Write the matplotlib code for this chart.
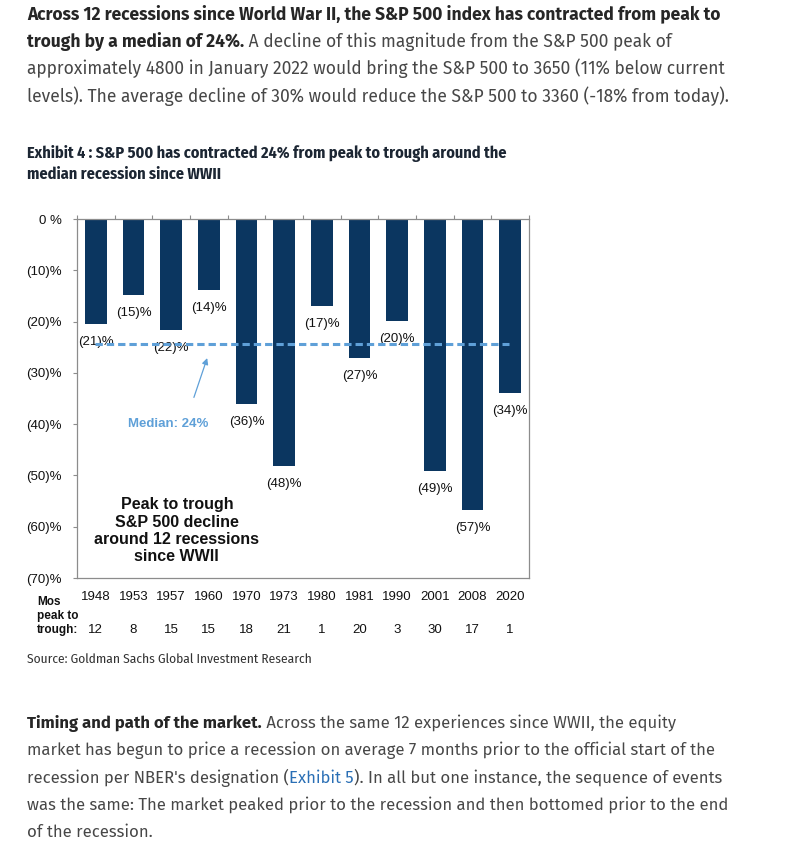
import numpy as np
import matplotlib.pyplot as plt
from matplotlib import font_manager as fm

# data
years = ['1948', '1953', '1957', '1960', '1970', '1973', '1980', '1981', '1990', '2001', '2008', '2020']
decline = [-20.5, -14.8, -21.6, -13.8, -36.1, -48.1, -17.0, -27.1, -19.9, -49.1, -56.7, -33.9]
bar_labels = ['(21)%', '(15)%', '(22)%', '(14)%', '(36)%', '(48)%', '(17)%', '(27)%', '(20)%', '(49)%', '(57)%', '(34)%']
months = [12, 8, 15, 15, 18, 21, 1, 20, 3, 30, 17, 1]
median = -24.4
ytick_vals = [0, -10, -20, -30, -40, -50, -60, -70]
ytick_labels = ['0 %', '(10)%', '(20)%', '(30)%', '(40)%', '(50)%', '(60)%', '(70)%']

NAVY = '#0b3660'
LBLUE = '#5fa0d8'
GRAY = '#8c8c8c'
BODY = '#474747'
DARK = '#262626'
ARIAL = ['Liberation Sans', 'DejaVu Sans']


def has_bold(name):
    ws = {f.weight for f in fm.fontManager.ttflist if f.name == name}
    return any(isinstance(w, int) and w >= 600 or w == 'bold' for w in ws)


def pick(cands, default='Liberation Sans'):
    for c in cands:
        if has_bold(c):
            return c
    return default


# page text: regular width humanist sans; chart title/source: condensed
PAGE = [pick(['Fira Sans', 'Source Sans Pro', 'Source Sans 3', 'PT Sans', 'Noto Sans']), 'DejaVu Sans']
NARROW = [pick(['Fira Sans Condensed', 'Roboto Condensed', 'PT Sans Narrow']), 'DejaVu Sans']

W, H = 800, 856
fig = plt.figure(figsize=(8, 8.56), dpi=100)
fig.patch.set_facecolor('white')
r = fig.canvas.get_renderer()


def px(x, y):
    return x / W, 1 - y / H


def fit_size(txt, weight, width_px, family, base=12):
    t = fig.text(0, 0, txt, fontsize=base, fontweight=weight, family=family)
    w = t.get_window_extent(renderer=r).width
    t.remove()
    return base * width_px / w


def rich_line(x, y, parts, size):
    # parts: (text, weight, color), drawn one after another on a baseline
    xf, yf = px(x, y)
    for txt, weight, color in parts:
        t = fig.text(xf, yf, txt, fontsize=size, fontweight=weight, color=color,
                     family=PAGE, ha='left', va='baseline')
        bb = t.get_window_extent(renderer=r)
        xf = bb.x1 / fig.bbox.width


top_lines = [
    [('Across 12 recessions since World War II, the S&P 500 index has contracted from peak to', 'bold', DARK)],
    [('trough by a median of 24%.', 'bold', DARK),
     (' A decline of this magnitude from the S&P 500 peak of', 'normal', BODY)],
    [('approximately 4800 in January 2022 would bring the S&P 500 to 3650 (11% below current', 'normal', BODY)],
    [('levels). The average decline of 30% would reduce the S&P 500 to 3360 (-18% from today).', 'normal', BODY)],
]
bottom_lines = [
    [('Timing and path of the market.', 'bold', DARK),
     (' Across the same 12 experiences since WWII, the equity', 'normal', BODY)],
    [('market has begun to price a recession on average 7 months prior to the official start of the', 'normal', BODY)],
    [('recession per NBER\'s designation (', 'normal', BODY), ('Exhibit 5', 'normal', '#2a6fb5'),
     ('). In all but one instance, the sequence of events', 'normal', BODY)],
    [('was the same: The market peaked prior to the recession and then bottomed prior to the end', 'normal', BODY)],
    [('of the recession.', 'normal', BODY)],
]
top_size = fit_size(top_lines[2][0][0], 'normal', 698, PAGE)
bot_size = fit_size(bottom_lines[3][0][0], 'normal', 702, PAGE)

for i, parts in enumerate(top_lines):
    rich_line(27, 19.5 + i * 27.4, parts, top_size)

# exhibit title
title1 = 'Exhibit 4 : S&P 500 has contracted 24% from peak to trough around the'
title_size = fit_size(title1, 'bold', 480, NARROW)
fig.text(*px(27, 158), title1, fontsize=title_size, fontweight='bold',
         color='#1c2633', family=NARROW, va='baseline')
fig.text(*px(27, 179), 'median recession since WWII', fontsize=title_size,
         fontweight='bold', color='#1c2633', family=NARROW, va='baseline')

# chart
ax = fig.add_axes([77 / W, 1 - 578 / H, (529 - 77) / W, (578 - 219) / H])
x = np.arange(len(years))
ax.bar(x, decline, width=0.58, color=NAVY, zorder=2)
for xi, v, lab in zip(x, decline, bar_labels):
    ax.annotate(lab, (xi, v), xytext=(0, -13), textcoords='offset points',
                ha='center', va='center', fontsize=9.5, family=ARIAL, color='#111111')

ax.plot([-0.03, 10.97], [median, median], ls=(0, (2.4, 1.3)), lw=2.2, color=LBLUE, zorder=3)
ax.annotate('', xy=(2.98, -26.6), xytext=(2.58, -35.3),
            arrowprops=dict(arrowstyle='-|>', color=LBLUE, lw=0.9, mutation_scale=9))
ax.text(1.92, -40.0, 'Median: 24%', ha='center', va='center', fontsize=9.5,
        fontweight='bold', color=LBLUE, family=ARIAL)
ax.text(2.15, -60.8, 'Peak to trough\nS&P 500 decline\naround 12 recessions\nsince WWII',
        ha='center', va='center', fontsize=11.5, fontweight='bold', family=ARIAL,
        color='#111111', linespacing=1.2)

ax.set_xlim(-0.5, len(years) - 0.5)
ax.set_ylim(-70, 0)
ax.set_yticks(ytick_vals, ytick_labels)
ax.set_xticks(x, years)
ax.set_xticks(np.arange(-0.5, len(years), 1), minor=True)
ax.tick_params(axis='x', which='major', length=0, pad=9, labelsize=9.5)
ax.tick_params(axis='x', which='minor', top=True, bottom=False, length=3, color=GRAY, width=0.8)
ax.tick_params(axis='y', length=3, color=GRAY, width=0.8, pad=8, labelsize=9.5)
for lab in ax.get_xticklabels() + ax.get_yticklabels():
    lab.set_family(ARIAL)
    lab.set_color('#111111')
for s in ax.spines.values():
    s.set_color(GRAY)
    s.set_linewidth(0.9)

# months peak to trough row
fig.text(*px(37, 616), 'Mos\npeak to\ntrough:', fontsize=8.5, fontweight='bold',
         family=ARIAL, ha='left', va='center', linespacing=1.25, color='#111111')
tr = ax.get_xaxis_transform()
for xi, m in zip(x, months):
    ax.text(xi, -(630 - 578) / (578 - 219), str(m), transform=tr, ha='center', va='center',
            fontsize=9.5, family=ARIAL, color='#111111')

src = 'Source: Goldman Sachs Global Investment Research'
src_size = fit_size(src, 'normal', 285, NARROW)
fig.text(*px(27, 663), src, fontsize=src_size, color='#333333', family=NARROW, va='baseline')

for i, parts in enumerate(bottom_lines):
    rich_line(27, 728 + i * 27.3, parts, bot_size)

plt.savefig('out.png', dpi=100)
